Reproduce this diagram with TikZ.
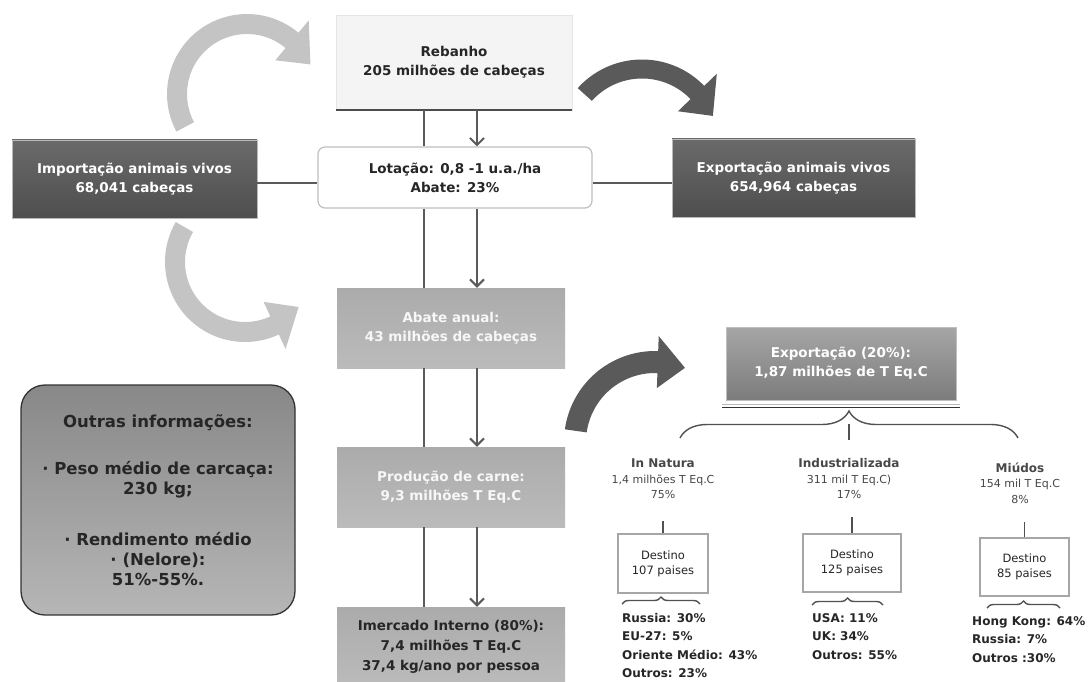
\documentclass[tikz,border=0pt]{standalone}
\usepackage{fontspec}
\setmainfont{DejaVu Sans}
\usetikzlibrary{arrows.meta,decorations.pathreplacing}
\definecolor{ink}{HTML}{262626}
\definecolor{linegray}{HTML}{5A5A5A}
\definecolor{boxlight}{HTML}{F4F4F4}
\definecolor{darktop}{HTML}{6A6A6A}
\definecolor{darkbot}{HTML}{4E4E4E}
\definecolor{midtop}{HTML}{ABABAB}
\definecolor{midbot}{HTML}{BBBBBB}
\definecolor{exptop}{HTML}{A6A6A6}
\definecolor{expbot}{HTML}{7C7C7C}
\definecolor{infotop}{HTML}{888888}
\definecolor{infobot}{HTML}{B6B6B6}
\definecolor{palearrow}{HTML}{C4C4C4}
\definecolor{darkarrow}{HTML}{5A5A5A}

% curved block arrow: centre, radius, half width, start, end, tip angle, head half width, colour
\newcommand{\bentarrow}[8]{%
  \fill[#8, shift={#1}]
    plot[domain=#4:#5, samples=40] (\x:{#2+#3})
    -- (#5:{#2+#7}) -- (#6:#2) -- (#5:{#2-#7})
    -- plot[domain=#5:#4, samples=40] (\x:{#2-#3}) -- cycle;}

\begin{document}
\begin{tikzpicture}[
    x=1pt, y=-1pt,
    txt/.style={align=center, inner sep=0pt, font=\bfseries\fontsize{13.5}{19}\selectfont},
    lightbox/.style={txt, fill=boxlight, draw=gray!20, text=ink},
    whitebox/.style={txt, fill=white, draw=gray!50, line width=1.2pt, rounded corners=7pt, text=ink},
    darkbox/.style={txt, top color=darktop, bottom color=darkbot, draw=gray!55, text=white},
    midbox/.style={txt, top color=midtop, bottom color=midbot, text=gray!6},
    conn/.style={draw=linegray, line width=2pt},
    dest/.style={draw=gray!70, line width=1.2pt, fill=white, align=center, inner sep=0pt, text=ink, font=\fontsize{11.5}{15}\selectfont},
    col/.style={align=center, inner sep=0pt, text=ink!85, font=\fontsize{11}{15.5}\selectfont},
    lst/.style={align=left, inner sep=0pt, anchor=north west, text=ink, font=\bfseries\fontsize{12}{18.5}\selectfont},
    brc/.style={draw=ink!80, line width=1.4pt, decorate}
  ]
  \useasboundingbox (0,0) rectangle (1089,682);

  \coordinate (colA) at (424,0);
  \coordinate (colB) at (477,0);

  \bentarrow{(247,94)}{70}{10}{152}{310}{335}{26}{palearrow}
  \bentarrow{(245,262)}{70}{10}{210}{65}{40}{26}{palearrow}
  \bentarrow{(642,146)}{77}{9.5}{222}{316}{337}{27}{darkarrow}
  \bentarrow{(655,442)}{80}{11}{188}{272}{292}{26}{darkarrow}

  \node[lightbox, minimum width=236pt, minimum height=95pt] (rebanho) at (454,62.5)
    {Rebanho\\205 milhões de cabeças};
  \draw[gray!60!black, line width=1.5pt] (rebanho.south west) -- (rebanho.south east);
  \node[whitebox, minimum width=274pt, minimum height=61pt] (lotacao) at (455,177.5)
    {Lotação: 0,8 -1 u.a./ha\\Abate: 23\%};
  \node[darkbox, minimum width=245pt, minimum height=78pt] (importacao) at (134.5,179)
    {Importação animais vivos\\68,041 cabeças};
  \node[darkbox, minimum width=243pt, minimum height=78pt] (exportacao) at (793.5,178)
    {Exportação animais vivos\\654,964 cabeças};
  \node[midbox, minimum width=228pt, minimum height=80pt] (abate) at (451,328)
    {Abate anual:\\43 milhões de cabeças};
  \node[midbox, minimum width=228pt, minimum height=80pt] (producao) at (451,487)
    {Produção de carne:\\9,3 milhões T Eq.C};
  \node[midbox, text=ink, minimum width=228pt, minimum height=80pt, font=\bfseries\fontsize{13.5}{20}\selectfont] (mercado) at (451,647)
    {Imercado Interno (80\%):\\7,4 milhões T Eq.C\\37,4 kg/ano por pessoa};

  \node[txt, top color=infotop, bottom color=infobot, draw=gray!40!black, line width=1.3pt,
        rounded corners=24pt, text=ink, minimum width=274pt, minimum height=230pt,
        font=\bfseries\fontsize{16.5}{20}\selectfont] (outras) at (158,500)
    {Outras informações:\\[27pt]· Peso médio de carcaça:\\230 kg;\\[31pt]· Rendimento médio\\· (Nelore):\\51\%-55\%.};

  \draw[conn] (importacao.east |- 0,183) -- (lotacao.west |- 0,183);
  \draw[conn] (lotacao.east |- 0,183) -- (exportacao.west |- 0,183);

  \draw[conn] (rebanho.south -| colA) -- (lotacao.north -| colA);
  \draw[conn, -{Straight Barb[length=7pt,width=14pt]}] (rebanho.south -| colB) -- (lotacao.north -| colB);
  \draw[conn] (lotacao.south -| colA) -- (abate.north -| colA);
  \draw[conn, -{Straight Barb[length=7pt,width=14pt]}] (lotacao.south -| colB) -- (abate.north -| colB);
  \draw[conn] (abate.south -| colA) -- (producao.north -| colA);
  \draw[conn, -{Straight Barb[length=7pt,width=14pt]}] (abate.south -| colB) -- (producao.north -| colB);
  \draw[conn] (producao.south -| colA) -- (mercado.north -| colA);
  \draw[conn, -{Straight Barb[length=7pt,width=14pt]}] (producao.south -| colB) -- (mercado.north -| colB);

  \node[txt, top color=exptop, bottom color=expbot, draw=gray!50, text=white,
        minimum width=230pt, minimum height=73pt] (export20) at (841,363.5)
    {Exportação (20\%):\\1,87 milhões de T Eq.C};
  \draw[gray!55, line width=1.2pt] ([xshift=-4pt,yshift=-4pt]export20.south west) -- ([xshift=4pt,yshift=-4pt]export20.south east);
  \draw[gray!40!black, line width=1.4pt] ([xshift=-4pt,yshift=-7pt]export20.south west) -- ([xshift=4pt,yshift=-7pt]export20.south east);

  \draw[brc, decoration={brace, amplitude=27pt}] (680,438) -- (1018,438);
  \draw[ink!80, line width=1.4pt] (849,424) -- (849,440);

  \node[col] (natura) at (663,479) {{\bfseries\fontsize{12}{15.5}\selectfont In Natura}\\1,4 milhões T Eq.C\\75\%};
  \node[col] (indust) at (849,479) {{\bfseries\fontsize{12}{15.5}\selectfont Industrializada}\\311 mil T Eq.C)\\17\%};
  \node[col] (miudos) at (1020,483) {{\bfseries\fontsize{12}{15.5}\selectfont Miúdos}\\154 mil T Eq.C\\8\%};

  \node[dest, minimum width=90pt, minimum height=59pt] (dest1) at (663,563.5) {Destino\\107 paises};
  \node[dest, minimum width=98pt, minimum height=58pt] (dest2) at (852,563) {Destino\\125 paises};
  \node[dest, minimum width=89pt, minimum height=58pt] (dest3) at (1024.5,567) {Destino\\85 paises};

  \draw[ink!80, line width=1.4pt] ([yshift=12pt]dest1.north) -- (dest1.north);
  \draw[ink!80, line width=1.4pt] ([yshift=16pt]dest2.north) -- (dest2.north);
  \draw[ink!80, line width=1.4pt] ([yshift=15pt]dest3.north) -- (dest3.north);

  \draw[brc, decoration={brace, amplitude=7pt}] (622,604) -- (700,604);
  \draw[brc, decoration={brace, amplitude=7pt}] (812,605) -- (883,605);
  \draw[brc, decoration={brace, amplitude=7pt}] (987,608) -- (1060,608);

  \node[lst] (lista1) at (622,613) {Russia: 30\%\\EU-27: 5\%\\Oriente Médio: 43\%\\Outros: 23\%};
  \node[lst] (lista2) at (812,613) {USA: 11\%\\UK: 34\%\\Outros: 55\%};
  \node[lst] (lista3) at (972,616) {Hong Kong: 64\%\\Russia: 7\%\\Outros :30\%};
\end{tikzpicture}
\end{document}
